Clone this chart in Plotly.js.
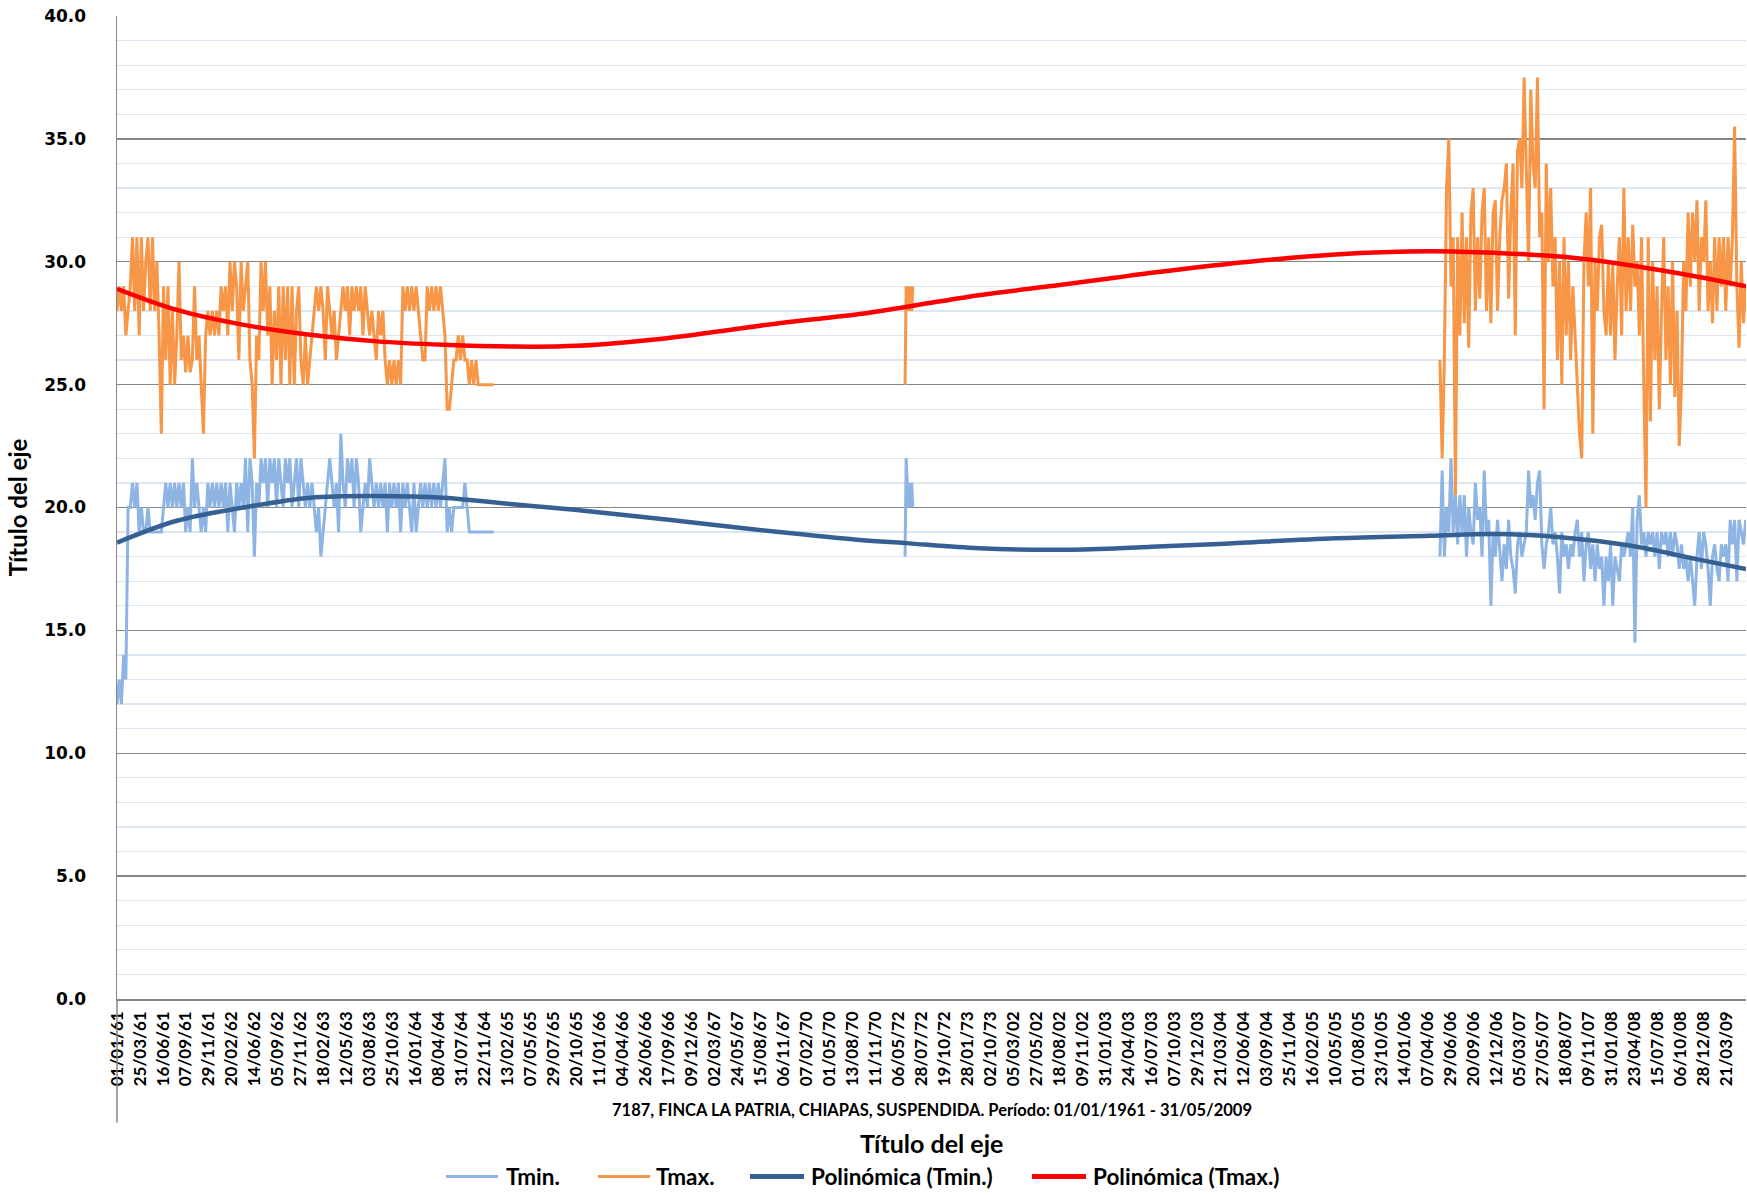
<!DOCTYPE html>
<html><head><meta charset="utf-8">
<script src="https://cdn.plot.ly/plotly-3.0.1.min.js"></script>
<style>html,body{margin:0;padding:0;background:#fff}</style>
</head><body><div id="chart" style="width:1747px;height:1196px"></div>
<script>
// ---- category axis (one category per record, label every 83 categories) ----
const tickLabels = ["01/01/61","25/03/61","16/06/61","07/09/61","29/11/61","20/02/62","14/06/62","05/09/62","27/11/62","18/02/63","12/05/63","03/08/63","25/10/63","16/01/64","08/04/64","31/07/64","22/11/64","13/02/65","07/05/65","29/07/65","20/10/65","11/01/66","04/04/66","26/06/66","17/09/66","09/12/66","02/03/67","24/05/67","15/08/67","06/11/67","07/02/70","01/05/70","13/08/70","11/11/70","06/05/72","28/07/72","19/10/72","28/01/73","02/10/73","05/03/02","27/05/02","18/08/02","09/11/02","31/01/03","24/04/03","16/07/03","07/10/03","29/12/03","21/03/04","12/06/04","03/09/04","25/11/04","16/02/05","10/05/05","01/08/05","23/10/05","14/01/06","07/04/06","29/06/06","20/09/06","12/12/06","05/03/07","27/05/07","18/08/07","09/11/07","31/01/08","23/04/08","15/07/08","06/10/08","28/12/08","21/03/09"];
const labelEvery = 83;
const lastCategory = 5881;

// ---- Tmax / Tmin readings, segment 1 (1961-1964), one value every 8 categories ----
const seg1Start = 0, seg1Step = 8;
const tmaxSeg1 = [28,29,28,29,27,28,29,31,28,31,
27,31,28,30,31,28,31,28,30,27,
23,29,26,29,25,28,25,27,30,26,
27,25.5,27,25.5,26,29,26,27,25,23,
27,28,27,28,27,28,27,29,28,29,
27,30,28,30,29,26,30,28,29,30,
26,25,22,27,26,30,28,30,27,29,
25,28,26,29,25,29,26,29,25,29,
25,28,29,26,25,27,25,26,27,28,
29,28,29,28,26,29,28,27,28,26,
27,28,29,28,29,27,29,28,29,28,
29,27,29,28,27,28,27,26,28,27,
28,26,25,26,25,26,25,26,25,29,
28,29,28,29,28,29,28,27,26,26,
29,28,29,28,29,28,29,28,27,24,
24,25,26,26,27,26,27,26,26,25,
26,25,26,25,25,25,25,25,25,25,
25];
const tminSeg1 = [12,13,12,14,13,20,20,21,20,21,
19,20,19,19,20,19,19,19,19,19,
19,20,21,20,21,20,21,20,21,20,
21,19,20,19,22,20,21,20,19,20,
19,21,20,21,20,21,20,21,20,21,
19,21,20,19,21,20,21,20,22,19,
22,21,18,21,20,22,21,22,20,22,
21,22,20,22,21,20,22,21,22,20,
21,22,20,22,21,20,21,20,21,20,
19,20,18,19,20,21,22,21,20,21,
19,23,21,20,22,21,22,20,22,21,
19,20,21,20,22,21,20,21,20,21,
20,21,19,21,20,21,20,21,19,21,
20,21,20,19,21,19,20,21,20,21,
20,21,20,21,20,21,20,21,22,19,
20,19,20,20,20,20,20,21,20,19,
19,19,19,19,19,19,19,19,19,19,
19];

// ---- segment 2 (1972), one value every 4 categories ----
const seg2Start = 2845, seg2Step = 4;
const tmaxSeg2 = [25,29,28,29,28,29,28,29];
const tminSeg2 = [18,22,21,20,21,20,21,20];

// ---- segment 3 (2006-2009), one value every 8 categories ----
const seg3Start = 4776, seg3Step = 8;
const tmaxSeg3 = [26,22,26,33,35,29,31,20.5,31,27,
32,27.5,31,26.5,32,33,28,31,28.5,32,
33,28,31,27.5,32,32.5,28,31,32.5,33,
34,28.5,32,34,27,34.5,35,33,37.5,34,
30,37,34,33,37.5,31,32,24,34,30,
33,29,31,26,30,25,31,27,30,26,
29,27,25,23,22,30,32,29,33,23,
30,28,31,31.5,28,27,30,27,30,26,
29,31,27,33,28,31,28,31.5,29,30,
27,31,25,20,31,23.5,30,26,29,24,
28,31,26,29,25,30,24.5,28,22.5,25,
30,28,32,29,32,30,32.5,28,31,30,
32.5,28,30,27.5,31,28,31,29,31,28,
31,29,31,35.5,29,26.5,30,27.5,29];
const tminSeg3 = [18,21.5,18,20,19,22,19,20.5,18.5,20.5,
19,20.5,18,20,19,18.5,21,19.5,20,18,
21.5,19,19.5,16,19,18,19.5,18,17,18.5,
17.5,19.5,18,17.5,16.5,18.5,19,18,18.5,19,
21.5,20,20.5,19.5,21,21.5,18.5,17.5,18.5,19,
20,18.5,19,18,16.5,19,18,18.5,17.5,18.5,
18,19,19.5,18,19,17,18.5,19,17.5,18.5,
17,18.5,17.5,18,16,18,17,18.5,16,18,
17.5,17,18.5,18,18.5,19,18,20,14.5,19.5,
20.5,18.5,19,18,19,18.5,19,18,19,17.5,
19,18.5,19,18,19,18,19,18.5,17.5,18.5,
17.5,18,17,18,17,16,18,19,17.5,19,
18.5,17.5,16,18,18.5,17.5,17,18.5,18,18.5,
17,19.5,18.5,19.5,17,19.5,19,18.5,19.5];

// ---- polynomial trend lines ----
const trendCat = [0,216,457,697,938,1179,1419,1660,1992,2390,2681,2847,3112,3403,3602,3735,4001,4399,4739,4980,5221,5461,5702,5881];
const tmaxTrend = [28.9,28.04,27.43,27.03,26.76,26.62,26.55,26.58,26.9,27.5,27.87,28.16,28.64,29.05,29.35,29.55,29.9,30.3,30.43,30.36,30.2,29.86,29.4,29.0];
const tminTrend = [18.57,19.46,20.0,20.4,20.47,20.4,20.14,19.9,19.5,19.0,18.68,18.55,18.34,18.28,18.33,18.4,18.53,18.75,18.85,18.92,18.78,18.45,17.9,17.5];

const subtitle = "7187, FINCA LA PATRIA, CHIAPAS, SUSPENDIDA. Período: 01/01/1961 - 31/05/2009";
const axisTitle = "Título del eje";
const seriesNames = ["Tmin.","Tmax.","Polinómica (Tmin.)","Polinómica (Tmax.)"];

// ---- build series ----
function build(segs){
  const x=[], y=[];
  segs.forEach(([start, step, vals], si) => {
    if (si > 0) { x.push(start - 1); y.push(null); }
    vals.forEach((v, i) => { x.push(start + i*step); y.push(v); });
  });
  return {x, y};
}
const tmin = build([[seg1Start,seg1Step,tminSeg1],[seg2Start,seg2Step,tminSeg2],[seg3Start,seg3Step,tminSeg3]]);
const tmax = build([[seg1Start,seg1Step,tmaxSeg1],[seg2Start,seg2Step,tmaxSeg2],[seg3Start,seg3Step,tmaxSeg3]]);

const C_TMIN = '#8EB4E3', C_TMAX = '#F79646', C_TRMIN = '#376092', C_TRMAX = '#FF0000';

const traces = [
  {type:'scatter', mode:'lines', name:seriesNames[0], x:tmin.x, y:tmin.y, connectgaps:false, line:{color:C_TMIN, width:3}},
  {type:'scatter', mode:'lines', name:seriesNames[1], x:tmax.x, y:tmax.y, connectgaps:false, line:{color:C_TMAX, width:3}},
  {type:'scatter', mode:'lines', name:seriesNames[2], x:trendCat, y:tminTrend, line:{color:C_TRMIN, width:4.5, shape:'spline', smoothing:1}},
  {type:'scatter', mode:'lines', name:seriesNames[3], x:trendCat, y:tmaxTrend, line:{color:C_TRMAX, width:4.5, shape:'spline', smoothing:1}}
];

const W = 1747, H = 1196, ML = 117, MR = 1, MT = 16, MB = 196.5;
const PW = W - ML - MR, PH = H - MT - MB;
const px = v => (v - ML) / PW;            // pixel x -> paper x
const py = v => (H - MB - v) / PH;        // pixel y -> paper y

const tickvals = tickLabels.map((_, k) => k * labelEvery);

const boldLato = {family:'Lato, "Open Sans", sans-serif', color:'#000', weight:'bold'};

const shapes = [
  {type:'line', xref:'paper', yref:'paper', x0:0, x1:0, y0:0, y1:py(1123), line:{color:'#868686', width:1.5}}
];
const annotations = [
  {xref:'paper', yref:'paper', x:0.5, y:py(1111), text:subtitle, showarrow:false, xanchor:'center', yanchor:'middle', font:Object.assign({size:16.5}, boldLato)},
  {xref:'paper', yref:'paper', x:0.5, y:py(1144), text:axisTitle, showarrow:false, xanchor:'center', yanchor:'middle', font:Object.assign({size:25}, boldLato)}
];
// manual legend (Excel style: long line samples)
const legendItems = [
  {l0:446, l1:498, t:504, color:C_TMIN, w:3},
  {l0:598, l1:650, t:654, color:C_TMAX, w:3},
  {l0:750, l1:804, t:809, color:C_TRMIN, w:5},
  {l0:1032, l1:1086, t:1091, color:C_TRMAX, w:5}
];
const legY = 1177;
legendItems.forEach((it, i) => {
  shapes.push({type:'line', xref:'paper', yref:'paper', x0:px(it.l0), x1:px(it.l1), y0:py(legY), y1:py(legY), line:{color:it.color, width:it.w}});
  annotations.push({xref:'paper', yref:'paper', x:px(it.t), y:py(legY), text:seriesNames[i], showarrow:false, xanchor:'left', yanchor:'middle', font:Object.assign({size:22.5}, boldLato)});
});

const layout = {
  width:W, height:H,
  margin:{l:ML, r:MR, t:MT, b:MB},
  paper_bgcolor:'#fff', plot_bgcolor:'#fff',
  showlegend:false,
  xaxis:{
    range:[0, lastCategory], tickmode:'array', tickvals:tickvals, ticktext:tickLabels,
    tickangle:-90, tickfont:Object.assign({size:17}, boldLato),
    showgrid:false, zeroline:false, showline:true, linecolor:'#868686', linewidth:1.5,
    ticks:'', ticklabelstandoff:4
  },
  yaxis:{
    range:[0,40], dtick:5, tick0:0, tickformat:'.1f',
    tickfont:{family:'"DejaVu Sans", Verdana, sans-serif', size:17, color:'#000', weight:'bold'},
    showgrid:true, gridcolor:'#868686', gridwidth:1.4,
    minor:{dtick:1, showgrid:true, gridcolor:'#DCE6F2', gridwidth:1.3},
    zeroline:false, showline:true, linecolor:'#868686', linewidth:1.5,
    ticks:'', ticklabelstandoff:26,
    title:{text:axisTitle, font:Object.assign({size:24}, boldLato), standoff:9}
  },
  shapes:shapes,
  annotations:annotations
};

Plotly.newPlot('chart', traces, layout, {staticPlot:true, displayModeBar:false});
</script>
</body></html>
